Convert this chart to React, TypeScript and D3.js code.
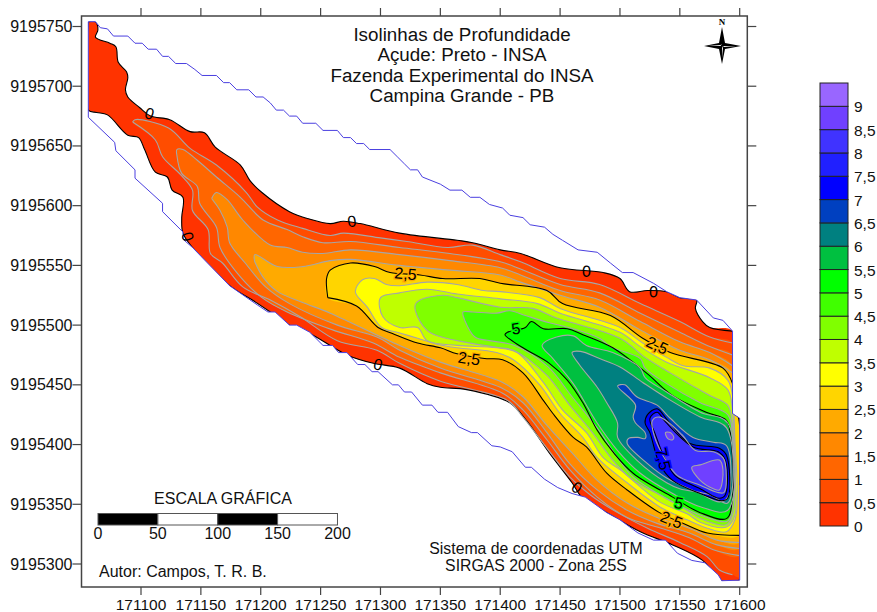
import React from "react";
import * as d3 from "d3";

const EAST0 = 171000;
const NORTH0 = 9195000;
const xTicks = [171100, 171150, 171200, 171250, 171300, 171350, 171400, 171450, 171500, 171550, 171600];
const yTicks = [9195300, 9195350, 9195400, 9195450, 9195500, 9195550, 9195600, 9195650, 9195700, 9195750];
const bandColors = ["#FF3300","#FF4D00","#FF6600","#FF8800","#FFAA00","#FFD500","#FFFF00","#BFFF00","#80FF00","#40FF00","#00FF00","#00C040","#008080","#0040C0","#0000FF","#2020FF","#4033FF","#7040FF","#9966FF"];
const legendLabels = ["0","0,5","1","1,5","2","2,5","3","3,5","4","4,5","5","5,5","6","6,5","7","7,5","8","8,5","9"];
type P = [number, number];

const level00: P[] = [[56,754],[62,754],[64,747],[62,741],[74,736],[79,733],[81,720],[88,712],[89,707],[87,697],[89,691],[99,682],[108,675],[124,672],[141,662],[153,661],[162,649],[183,634],[191,621],[201,611],[224,595],[240,589],[258,585],[269,587],[283,585],[316,577],[364,571],[377,569],[400,563],[417,560],[450,548],[486,544],[500,539],[508,528],[523,529],[539,528],[550,523],[564,521],[563,514],[569,503],[575,498],[594,495],[594,426],[600,422],[600,286.5],[585,286],[569,303],[544,316],[517,327],[489,343],[468,356],[460,368],[441,393],[422,420],[408,435],[372,446],[350,448],[339,451],[316,464],[294,468],[272,475],[241,493],[224,500],[208,511],[193,521],[174,533],[143,565],[135,577],[134,590],[135,607],[126,613],[122,624],[112,628],[103,647],[98,657],[89,659],[72,676],[63,678],[56,680]];
const level05: P[] = [[93,670],[95,672],[123,665],[141,648],[163,634],[188,611],[197,599],[214,588],[235,581],[258,575],[269,577],[300,573],[322,570],[356,565],[377,567],[400,559],[417,553],[450,539],[483,534],[517,518],[550,503],[575,490],[594,485],[594,426],[600,422],[600,289],[594,291],[583,295],[573,306],[550,318],[523,330],[498,343],[475,358],[458,373],[439,397],[419,423],[406,437],[350,453],[316,468],[297,479],[264,487],[233,507],[208,521],[185,532],[168,552],[158,560],[156,580],[143,596],[143,613],[133,626],[118,641],[112,655]];
const level10: P[] = [[130,642],[130,647],[135,647],[147,638],[163,624],[183,607],[202,588],[222,580],[235,574],[252,569],[275,570],[316,565],[358,560],[400,553],[417,547],[450,534],[483,527],[517,510],[550,494],[575,482],[594,475],[594,426],[600,422],[600,307],[578,312],[558,322],[531,331],[506,339],[481,356],[458,379],[439,404],[419,429],[402,443],[350,460],[316,473],[294,485],[260,496],[222,511],[201,523],[180,544],[166,565],[163,582],[149,602],[147,616],[134,627]];
const level15: P[] = [[159,606],[163,611],[172,605],[185,588],[208,567],[222,565],[235,561],[252,560],[275,563],[316,559],[358,554],[400,548],[417,542],[450,529],[483,521],[517,503],[550,486],[575,477],[594,466],[594,426],[600,422],[600,313],[581,316],[558,326],[531,334],[506,345],[481,362],[458,384],[439,410],[419,435],[402,447],[350,464],[316,479],[297,490],[264,500],[224,518],[204,532],[187,552],[174,569],[172,582],[166,596]];
const level20: P[] = [[195,553],[195,559],[214,549],[235,549],[258,554],[275,555],[316,550],[358,546],[400,542],[417,536],[450,525],[483,515],[517,496],[550,479],[575,471],[594,460],[594,426],[600,422],[600,318],[581,320],[558,330],[531,339],[506,351],[481,370],[460,393],[439,416],[419,440],[402,452],[350,469],[316,483],[258,510],[235,519],[214,528],[202,540]];
const level25: P[] = [[256,523],[255,539],[258,546],[275,552],[295,549],[308,544],[333,542],[352,539],[383,539],[400,535],[439,529],[452,518],[492,508],[519,489],[542,477],[586,464],[594,451],[594,426],[598,425],[600,366],[600,324],[573,326],[553,334],[533,343],[506,362],[489,376],[472,398],[461,406],[444,426],[436,437],[419,460],[402,471],[387,472],[364,476],[350,481],[331,485],[310,493],[298,498],[280,516]];
const level30: P[] = [[279,528],[285,538],[295,539],[305,534],[316,533],[339,536],[364,534],[386,529],[400,528],[433,523],[450,514],[500,498],[519,485],[539,473],[553,466],[575,464],[590,454],[594,441],[596,404],[598,353],[596,337],[589,327],[573,330],[556,337],[533,348],[506,368],[481,389],[469,406],[450,426],[433,450],[411,471],[397,477],[364,481],[347,484],[331,489],[314,494],[301,498],[289,515]];
const level35: P[] = [[300,523],[316,527],[339,530],[364,526],[400,522],[431,518],[450,510],[500,494],[517,482],[539,469],[575,456],[590,446],[594,429],[596,379],[596,341],[589,331],[567,335],[556,342],[533,352],[500,379],[486,389],[472,410],[452,429],[436,452],[414,477],[397,481],[364,483],[339,487],[331,498],[316,498],[302,507]];
const level40: P[] = [[329,517],[333,521],[352,525],[364,523],[400,515],[427,514],[447,506],[500,489],[521,473],[542,460],[575,441],[590,433],[594,416],[595,379],[595,345],[589,333],[567,338],[556,345],[533,358],[511,370],[494,387],[477,410],[458,433],[439,458],[411,479],[400,481],[364,487],[341,494],[331,507]];
const level45: P[] = [[369,508],[369,511],[377,511],[397,510],[408,512],[421,508],[441,502],[461,497],[483,489],[492,482],[517,472],[521,464],[539,451],[567,435],[590,425],[594,404],[594,349],[590,336],[567,341],[544,352],[511,373],[498,389],[481,414],[460,440],[440,465],[412,483],[391,487],[379,490]];
const level50: P[] = [[404,492],[406,494],[421,498],[426,503],[436,497],[456,497],[469,492],[494,481],[522,460],[544,441],[572,427],[589,420],[593,401],[594,356],[589,338],[567,343],[544,356],[511,376],[494,394],[481,412],[469,435],[456,454],[441,468],[419,481]];
const level55: P[] = [[435,483],[447,490],[461,491],[472,483],[494,477],[517,464],[521,456],[539,444],[567,427],[590,418],[590,345],[567,348],[544,359],[517,376],[498,395],[481,418],[461,451],[444,472]];
const level60: P[] = [[460,477],[467,478],[483,472],[500,465],[519,452],[539,439],[567,423],[589,414],[590,351],[575,358],[550,363],[539,368],[514,387],[498,406],[498,418],[489,435],[481,448],[466,467]];
const level65: P[] = [[498,449],[504,450],[514,440],[531,433],[542,422],[561,406],[578,402],[589,399],[590,356],[583,352],[567,359],[539,372],[523,384],[506,401],[507,405],[515,406],[521,405],[521,410],[513,418],[511,423],[513,433]];
const level70: P[] = [[521,418],[523,425],[531,430],[540,420],[558,401],[583,397],[589,391],[590,355],[585,353],[567,359],[544,370],[533,384],[525,410]];
const level75: P[] = [[525,422],[531,427],[538,419],[561,398],[582,394],[588,387],[588,358],[583,355],[567,363],[546,374],[538,387],[529,410]];
const level80: P[] = [[527,420],[533,423],[552,408],[563,395],[578,394],[586,389],[588,384],[587,360],[581,360],[567,366],[548,374],[537,389],[529,406]];
const level85a: P[] = [[560,381],[567,383],[583,387],[586,379],[583,362],[578,363],[567,370]];
const level85b: P[] = [[538,410],[542,410],[545,406],[544,404],[540,405]];

const outline: P[] = [[56,754],[62,754],[66,749],[72,748],[77,742],[89,742],[95,736],[101,736],[106,731],[113,731],[118,725],[123,725],[129,719],[138,719],[145,714],[151,709],[163,709],[169,703],[174,703],[180,697],[190,697],[196,691],[202,691],[208,686],[213,680],[219,680],[224,675],[230,675],[235,669],[246,669],[252,663],[264,663],[269,657],[275,657],[280,652],[286,652],[291,647],[308,647],[314,641],[320,635],[325,630],[331,630],[335,624],[350,618],[358,613],[368,613],[375,607],[383,607],[391,601],[402,598],[408,592],[419,590],[425,584],[437,582],[444,576],[452,571],[465,563],[481,561],[492,552],[502,544],[511,544],[528,535],[539,528],[550,523],[564,521],[578,506],[586,504],[594,495],[594,426],[600,422],[600,286.5],[585,286],[582,291],[571,301],[560,303],[548,309],[538,320],[528,320],[515,326],[500,337],[489,343],[471,356],[460,359],[448,364],[437,371],[426,381],[421,381],[410,394],[400,398],[393,399],[381,410],[376,410],[365,415],[356,427],[348,427],[343,433],[335,433],[326,444],[320,444],[315,450],[310,450],[298,461],[293,461],[287,467],[281,467],[272,477],[265,477],[260,483],[252,483],[241,494],[230,500],[224,500],[212,511],[206,511],[197,517],[174,533],[143,565],[135,572],[135,578],[118,595],[118,602],[95,623],[95,630],[79,646],[78,653],[56,674],[56,754]];

const polygons: { pts: P[]; band: number; black: boolean; edge: boolean }[] = [
  { pts: level00, band: 0, black: true, edge: true },
  { pts: level05, band: 1, black: false, edge: true },
  { pts: level10, band: 2, black: false, edge: true },
  { pts: level15, band: 3, black: false, edge: true },
  { pts: level20, band: 4, black: false, edge: true },
  { pts: level25, band: 5, black: true, edge: true },
  { pts: level30, band: 6, black: false, edge: false },
  { pts: level35, band: 7, black: false, edge: false },
  { pts: level40, band: 8, black: false, edge: false },
  { pts: level45, band: 9, black: false, edge: false },
  { pts: level50, band: 10, black: true, edge: false },
  { pts: level55, band: 11, black: false, edge: false },
  { pts: level60, band: 12, black: false, edge: false },
  { pts: level65, band: 13, black: false, edge: false },
  { pts: level70, band: 14, black: true, edge: false },
  { pts: level75, band: 15, black: true, edge: false },
  { pts: level80, band: 16, black: false, edge: false },
  { pts: level85a, band: 17, black: false, edge: false },
  { pts: level85b, band: 17, black: false, edge: false },
];

const contourLabels: { t: string; e: number; n: number; r: number; halo: number }[] = [
  { t: "0", e: 107, n: 677, r: 18, halo: -1 },
  { t: "0", e: 276, n: 587, r: -6, halo: -1 },
  { t: "0", e: 139, n: 574, r: 75, halo: -1 },
  { t: "0", e: 298, n: 467, r: 12, halo: -1 },
  { t: "0", e: 472, n: 545, r: 3, halo: -1 },
  { t: "0", e: 528, n: 528, r: 3, halo: -1 },
  { t: "0", e: 464, n: 364, r: 35, halo: -1 },
  { t: "2,5", e: 321, n: 543, r: 5, halo: 4 },
  { t: "2,5", e: 374, n: 472, r: 8, halo: 4 },
  { t: "2,5", e: 531, n: 483, r: 25, halo: 4 },
  { t: "2,5", e: 543, n: 337, r: 22, halo: 4 },
  { t: "5", e: 413, n: 497, r: -8, halo: 10 },
  { t: "5", e: 549, n: 351, r: 12, halo: 10 },
  { t: "7,5", e: 536, n: 388, r: 78, halo: 14 },
];

const titleLines = ["Isolinhas de Profundidade", "Açude: Preto - INSA", "Fazenda Experimental do INSA", "Campina Grande - PB"];
const systemLines = ["Sistema de coordenadas UTM", "SIRGAS 2000 - Zona 25S"];
const scaleBarStops = [0, 50, 100, 150, 200];

const FONT = "'Liberation Sans', Arial, sans-serif";

export default function App() {
  const x = d3.scaleLinear().domain([171100, 171600]).range([141, 739.7]);
  const y = d3.scaleLinear().domain([9195300, 9195750]).range([564, 26.5]);
  const px = (p: P) => x(p[0] + EAST0);
  const py = (p: P) => y(p[1] + NORTH0);
  const open = d3.line<P>().x(px).y(py).curve(d3.curveCatmullRom.alpha(0.5));
  const closed = d3.line<P>().x(px).y(py).curve(d3.curveCatmullRomClosed.alpha(0.5));
  const straight = d3.line<P>().x(px).y(py);
  const L = 81.5, R = 747.3, T = 16, B = 587;
  const legend = d3.scaleLinear().domain([0, 19]).range([526, 83]);
  const barX0 = 98;
  const barW = x(171000 + 200) - x(171000);
  const barScale = d3.scaleLinear().domain([0, 200]).range([barX0, barX0 + barW]);

  const strokeOf = (poly: typeof polygons[number]) => {
    const pts = poly.pts;
    if (!poly.edge) return closed(pts) || "";
    const onEdge = (p: P) => p[0] === 594 || p[0] === 600;
    const runs: P[][] = [];
    let run: P[] = [];
    for (let i = 0; i < pts.length; i++) {
      const a = pts[i], b = pts[(i + 1) % pts.length];
      if (onEdge(a) && onEdge(b)) {
        if (run.length) { run.push(a); runs.push(run); run = []; }
        continue;
      }
      run.push(a);
    }
    if (run.length) { run.push(pts[0]); runs.push(run); }
    return runs.map(r => open(r) || "").join("");
  };

  return (
    <svg width={877} height={612} style={{ position: "absolute", left: 0, top: 0, display: "block", background: "#fff" }} fontFamily={FONT}>
      <defs>
        <clipPath id="lake"><path d={(straight(outline) || "") + "Z"} /></clipPath>
      </defs>
      <g clipPath="url(#lake)">
        {polygons.map((p, i) => (
          <path key={"f" + i} d={closed(p.pts) || ""} fill={bandColors[p.band]} stroke="none" />
        ))}
        {polygons.map((p, i) => (
          <path key={"s" + i} d={strokeOf(p)} fill="none" stroke={p.black ? "#000" : "#A6A6A6"} strokeWidth={1.1} strokeLinejoin="round" />
        ))}
      </g>
      <path d={(straight(outline) || "") + "Z"} fill="none" stroke="#4A3FE0" strokeWidth={1} />
      {contourLabels.map((l, i) => {
        const cx = x(l.e + EAST0), cy = y(l.n + NORTH0);
        return (
          <text key={"c" + i} transform={`translate(${cx},${cy}) rotate(${l.r})`} textAnchor="middle" dominantBaseline="central"
            fontSize={16} fill="#000" stroke={l.halo >= 0 ? bandColors[l.halo] : "none"} strokeWidth={2.5} paintOrder="stroke">{l.t}</text>
        );
      })}

      <rect x={L} y={T} width={R - L} height={B - T} fill="none" stroke="#444" strokeWidth={1.5} />
      {xTicks.map(t => (
        <g key={t} stroke="#444" strokeWidth={1.2}>
          <line x1={x(t)} x2={x(t)} y1={T} y2={T - 8} />
          <line x1={x(t)} x2={x(t)} y1={B} y2={B + 8} />
        </g>
      ))}
      {yTicks.map(t => (
        <g key={t} stroke="#444" strokeWidth={1.2}>
          <line x1={L} x2={L - 9} y1={y(t)} y2={y(t)} />
          <line x1={R} x2={R + 9} y1={y(t)} y2={y(t)} />
        </g>
      ))}
      {xTicks.map(t => (
        <text key={t} x={x(t)} y={610} textAnchor="middle" fontSize={15.5} fill="#111">{t}</text>
      ))}
      {yTicks.map(t => (
        <text key={t} x={72.5} y={y(t) + 5.5} textAnchor="end" fontSize={16} fill="#111">{t}</text>
      ))}

      {titleLines.map((s, i) => (
        <text key={s} x={462} y={41 + i * 20.4} textAnchor="middle" fontSize={18.8} fill="#111">{s}</text>
      ))}
      {systemLines.map((s, i) => (
        <text key={s} x={536} y={554 + i * 17} textAnchor="middle" fontSize={15.8} fill="#111">{s}</text>
      ))}
      <text x={99} y={577} fontSize={16} fill="#111">Autor: Campos, T. R. B.</text>

      <text x={223} y={504} textAnchor="middle" fontSize={16} fill="#111">ESCALA GRÁFICA</text>
      {scaleBarStops.slice(0, -1).map((s, i) => (
        <rect key={s} x={barScale(s)} y={513.5} width={barScale(scaleBarStops[i + 1]) - barScale(s)} height={11.5}
          fill={i % 2 === 0 ? "#000" : "#fff"} stroke="#555" strokeWidth={1} />
      ))}
      {scaleBarStops.map(s => (
        <text key={s} x={barScale(s)} y={539} textAnchor="middle" fontSize={16} fill="#111">{s}</text>
      ))}

      <g>
        <text x={722} y={25} textAnchor="middle" fontFamily="'Liberation Serif', serif" fontWeight="bold" fontSize={9} fill="#000">N</text>
        <path d="M722 27 L725 43 L741 46 L725 49 L722 64 L719 49 L704 46 L719 43 Z" fill="#000" />
        <path d="M722 44 L720.5 46 L708 46 L720.5 45 Z M723.5 46 L736 46.6 L723.5 47 Z M722 48 L723 46 L722.7 58 Z" fill="#fff" />
      </g>

      {bandColors.map((c, i) => (
        <rect key={c} x={820} y={legend(i + 1)} width={28} height={legend(i) - legend(i + 1)} fill={c} stroke="#222" strokeWidth={1} />
      ))}
      {legendLabels.map((s, i) => (
        <text key={s} x={854} y={legend(i) + 6} fontSize={15.5} fill="#111">{s}</text>
      ))}
    </svg>
  );
}
